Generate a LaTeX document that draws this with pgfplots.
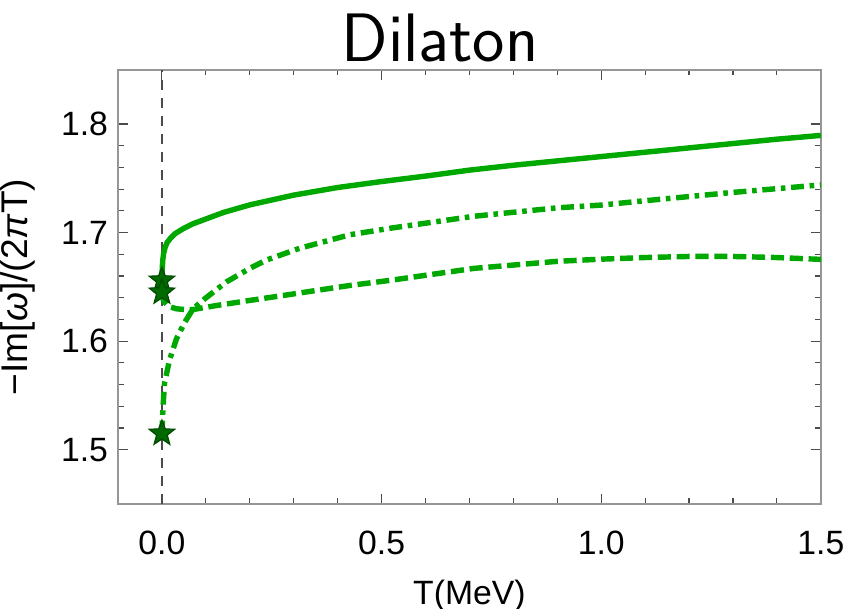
\documentclass[border=0pt]{standalone}
\usepackage{fontspec}
\setmainfont{Liberation Sans}
\usepackage{pgfplots}
\pgfplotsset{compat=1.18}

\definecolor{curvegreen}{RGB}{0,168,0}
\definecolor{stargreen}{RGB}{0,105,0}
\definecolor{framegray}{RGB}{150,150,150}

% filled five-pointed star
\pgfdeclareplotmark{fstar}{%
  \pgfpathmoveto{\pgfpointpolar{90}{\pgfplotmarksize}}%
  \pgfpathlineto{\pgfpointpolar{126}{0.42\pgfplotmarksize}}%
  \pgfpathlineto{\pgfpointpolar{162}{\pgfplotmarksize}}%
  \pgfpathlineto{\pgfpointpolar{198}{0.42\pgfplotmarksize}}%
  \pgfpathlineto{\pgfpointpolar{234}{\pgfplotmarksize}}%
  \pgfpathlineto{\pgfpointpolar{270}{0.42\pgfplotmarksize}}%
  \pgfpathlineto{\pgfpointpolar{306}{\pgfplotmarksize}}%
  \pgfpathlineto{\pgfpointpolar{342}{0.42\pgfplotmarksize}}%
  \pgfpathlineto{\pgfpointpolar{18}{\pgfplotmarksize}}%
  \pgfpathlineto{\pgfpointpolar{54}{0.42\pgfplotmarksize}}%
  \pgfpathclose
  \pgfusepathqfillstroke}

\begin{document}
\begin{tikzpicture}
\begin{axis}[
name=ax,
scale only axis,
width=246pt, height=152pt,
xmin=-0.1, xmax=1.5,
ymin=1.45, ymax=1.85,
xtick={0,0.5,1,1.5},
ytick={1.5,1.6,1.7,1.8},
minor x tick num=4,
minor y tick num=4,
tick align=inside,
major tick length=3.5pt,
minor tick length=2pt,
axis line style={framegray, line width=0.6pt},
every tick/.style={black!70, line width=0.4pt},
/pgf/number format/assume math mode=true,
xticklabel style={/pgf/number format/fixed, /pgf/number format/fixed zerofill, /pgf/number format/precision=1, yshift=-6pt},
yticklabel style={/pgf/number format/fixed, /pgf/number format/fixed zerofill, /pgf/number format/precision=1},
tick label style={font=\fontsize{11.8}{14}\selectfont},
xlabel style={font=\fontsize{11.8}{14}\selectfont, yshift=-2pt},
ylabel style={font=\fontsize{13}{15}\selectfont, yshift=2pt},
xlabel={T(MeV)},
ylabel={−Im[\textit{ω}]/(2\textit{π}T)},
clip=true,
]
% vertical reference line at T = 0
\addplot[black!70, line width=0.5pt, dash pattern=on 3.5pt off 2.8pt] coordinates {(0,1.45)(0,1.85)};

% solid branch
\addplot[curvegreen, line width=1.9pt, line join=round] coordinates {
(0,1.656)(0.0005,1.664)(0.001,1.669)(0.002,1.675)(0.004,1.681)(0.007,1.686)
(0.012,1.691)(0.02,1.695)(0.03,1.699)(0.048,1.7035)(0.07,1.708)(0.1,1.7125)
(0.14,1.7185)(0.2,1.7255)(0.25,1.730)(0.3,1.7345)(0.4,1.7415)
(0.5,1.747)(0.6,1.752)(0.7,1.7575)(0.8,1.762)(0.9,1.766)(1.0,1.770)
(1.1,1.774)(1.2,1.778)(1.3,1.782)(1.4,1.786)(1.5,1.7895)
};

% dot-dashed branch
\addplot[curvegreen, line width=1.9pt, line join=round, dash pattern=on 4.5pt off 2pt on 1.6pt off 2pt] coordinates {
(0,1.515)(0.0015,1.530)(0.0025,1.540)(0.006,1.5616)(0.0176,1.583)(0.033,1.602)
(0.052,1.6174)(0.071,1.6298)(0.0975,1.639)(0.147,1.6546)(0.2,1.667)(0.238,1.6747)
(0.314,1.6856)(0.428,1.698)(0.52,1.704)(0.71,1.715)(0.9,1.7228)(1.0,1.7253)
(1.091,1.729)(1.3,1.737)(1.5,1.7439)
};

% dashed branch
\addplot[curvegreen, line width=1.9pt, line join=round, dash pattern=on 4.6pt off 2pt] coordinates {
(0,1.645)(0.003,1.638)(0.006,1.636)(0.015,1.632)(0.033,1.6298)(0.055,1.629)
(0.071,1.6291)(0.124,1.6328)(0.2,1.6375)(0.277,1.6421)(0.353,1.6468)(0.43,1.6514)
(0.52,1.656)(0.71,1.667)(0.9,1.6735)(1.0,1.6755)(1.1,1.677)(1.2,1.678)
(1.3,1.678)(1.4,1.677)(1.5,1.6753)
};

% end points at T = 0
\addplot[only marks, mark=fstar, mark size=4.7pt, mark options={fill=stargreen, draw=stargreen!70!black, line width=0.4pt}] coordinates {
(0,1.656)(0,1.645)(0,1.515)
};
\end{axis}
\node[font=\sffamily\fontsize{24}{28}\selectfont, anchor=base] at ([shift={(112.7pt,154.7pt)}]ax.south west) {Dilaton};
\pgfresetboundingbox
\path[use as bounding box] ([shift={(-41.3pt,-36.75pt)}]ax.south west) rectangle ([shift={(253.75pt,176.4pt)}]ax.south west);
\end{tikzpicture}
\end{document}
